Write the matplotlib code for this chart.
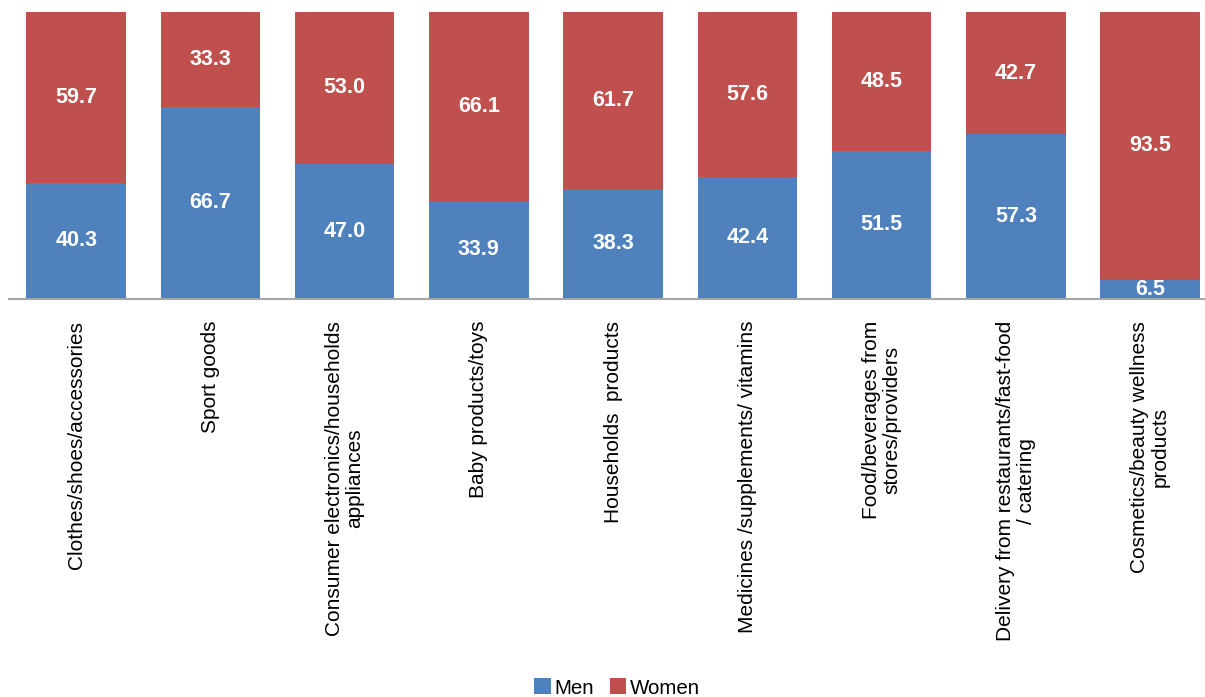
import matplotlib
matplotlib.use("Agg")
import matplotlib.pyplot as plt
import numpy as np

plt.rcParams['font.family'] = ['Liberation Sans', 'DejaVu Sans']

categories = [
    "Clothes/shoes/accessories",
    "Sport goods",
    "Consumer electronics/households\nappliances",
    "Baby products/toys",
    "Households  products",
    "Medicines /supplements/ vitamins",
    "Food/beverages from\nstores/providers",
    "Delivery from restaurants/fast-food\n/ catering",
    "Cosmetics/beauty wellness\nproducts",
]
men = [40.3, 66.7, 47.0, 33.9, 38.3, 42.4, 51.5, 57.3, 6.5]
women = [59.7, 33.3, 53.0, 66.1, 61.7, 57.6, 48.5, 42.7, 93.5]

blue = "#4F81BD"
red = "#C0504D"

W, H = 1205, 697
fig = plt.figure(figsize=(W / 100, H / 100), dpi=100)
left_px, right_px = 9, 1204
top_px, bottom_px = 12, 298.5
ax = fig.add_axes([left_px / W, 1 - bottom_px / H,
                   (right_px - left_px) / W, (bottom_px - top_px) / H])

x = np.arange(len(categories))
width = 0.74
b1 = ax.bar(x, men, width, color=blue, label="Men")
b2 = ax.bar(x, women, width, bottom=men, color=red, label="Women")

for xi, m, w in zip(x, men, women):
    ax.text(xi, m / 2, f"{m:.1f}", ha="center", va="center",
            color="white", fontsize=15.5, fontweight="bold")
    ax.text(xi, m + w / 2, f"{w:.1f}", ha="center", va="center",
            color="white", fontsize=15.5, fontweight="bold")

step = 134.25
ax.set_xlim(-0.5, -0.5 + (right_px - left_px) / step)
ax.set_ylim(0, 100)

for s in ["top", "right", "left"]:
    ax.spines[s].set_visible(False)
ax.spines["bottom"].set_color("#A6A6A6")
ax.spines["bottom"].set_linewidth(1.5)
ax.set_yticks([])
ax.set_xticks(x)
ax.set_xticklabels(categories, rotation=90, ha="center", va="top",
                   multialignment="center", fontsize=15, linespacing=1.1)
ax.tick_params(axis="x", length=0, pad=16)

fig.legend(handles=[b1, b2], labels=["Men", "Women"], loc="center",
           bbox_to_anchor=(617 / W, 1 - 688 / H), ncol=2, frameon=False,
           fontsize=14.8, handlelength=0.8, handleheight=0.8,
           handletextpad=0.15, columnspacing=0.8, borderpad=0)

fig.savefig("out.png", dpi=100)
